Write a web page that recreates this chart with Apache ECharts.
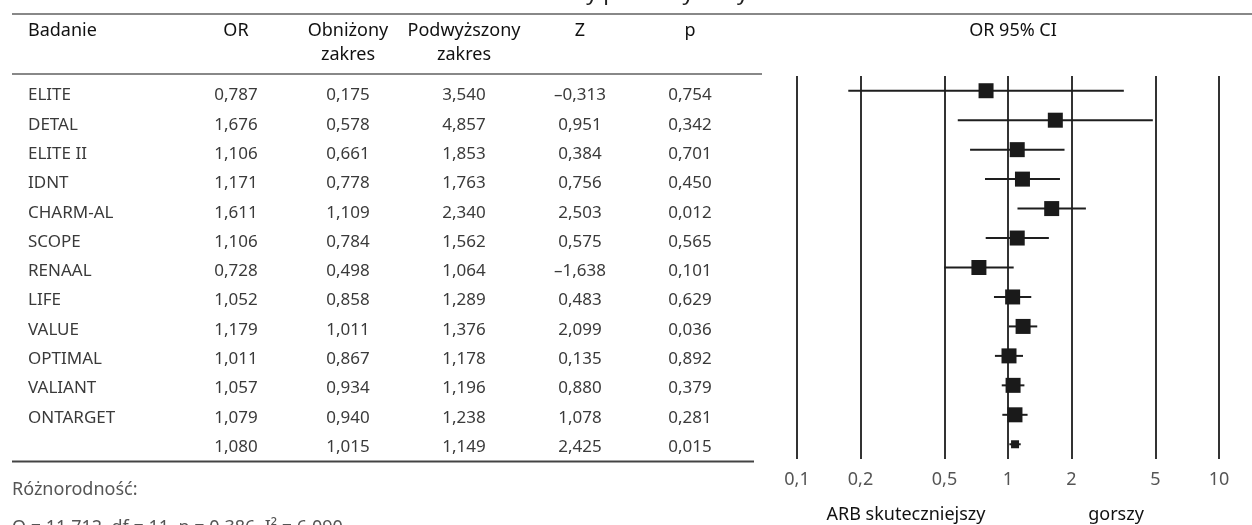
<html>
<head>
    <meta charset='utf-8' />
    <script src="https://cdn.jsdelivr.net/npm/echarts@6.0.0/dist/echarts.min.js"></script>
    <title>OR 95% CI</title>
    <style>
        html, body { margin: 0; padding: 0; background: #fff; }
        #chart { width: 1252px; height: 525px; }
    </style>
</head>
<body>
    <div id="chart"></div>
    <script type="text/javascript">
        // dane z tabeli
        var studies = ['ELITE', 'DETAL', 'ELITE II', 'IDNT', 'CHARM-AL', 'SCOPE', 'RENAAL', 'LIFE', 'VALUE', 'OPTIMAL', 'VALIANT', 'ONTARGET', ''];
        var orValues = [0.787, 1.676, 1.106, 1.171, 1.611, 1.106, 0.728, 1.052, 1.179, 1.011, 1.057, 1.079, 1.080];
        var lowerCI = [0.175, 0.578, 0.661, 0.778, 1.109, 0.784, 0.498, 0.858, 1.011, 0.867, 0.934, 0.940, 1.015];
        var upperCI = [3.540, 4.857, 1.853, 1.763, 2.340, 1.562, 1.064, 1.289, 1.376, 1.178, 1.196, 1.238, 1.149];
        var zValues = [-0.313, 0.951, 0.384, 0.756, 2.503, 0.575, -1.638, 0.483, 2.099, 0.135, 0.880, 1.078, 2.425];
        var pValues = [0.754, 0.342, 0.701, 0.450, 0.012, 0.565, 0.101, 0.629, 0.036, 0.892, 0.379, 0.281, 0.015];
        var axisTicks = [0.1, 0.2, 0.5, 1, 2, 5, 10];
        var headers = ['Badanie', 'OR', 'Obniżony\nzakres', 'Podwyższony\nzakres', 'Z', 'p'];

        var FONT = 'Noto Sans';

        function fmt(v) {
            return (v < 0 ? '–' : '') + Math.abs(v).toFixed(3).replace('.', ',');
        }

        var chart = echarts.init(document.getElementById('chart'), null, { renderer: 'canvas' });

        var graphic = [];
        function hline(x1, x2, y, color) {
            graphic.push({
                type: 'line',
                shape: { x1: x1, y1: y, x2: x2, y2: y },
                style: { stroke: color, lineWidth: 2 }
            });
        }
        function txt(x, y, text, opts) {
            opts = opts || {};
            graphic.push({
                type: 'text',
                x: x,
                y: y,
                style: {
                    text: text,
                    font: (opts.size || 17) + 'px "' + FONT + '"',
                    fill: opts.color || '#3a3a3a',
                    align: opts.align || 'center',
                    verticalAlign: 'middle',
                    lineHeight: opts.lineHeight || 22
                }
            });
        }

        // tytuł (ucięty u góry)
        txt(631, -6, 'ARB vs inny porównywany lek', { size: 22, color: '#222' });

        hline(12, 1252, 14, '#888');
        hline(12, 762, 74, '#888');
        hline(12, 754, 461.5, '#444');

        // nagłówki
        var colX = [28, 236, 348, 464, 580, 690];
        txt(colX[0], 31, headers[0], { size: 18, color: '#111', align: 'left' });
        txt(colX[1], 31, headers[1], { size: 18, color: '#111' });
        txt(colX[2], 43, headers[2], { size: 18, color: '#111', lineHeight: 24 });
        txt(colX[3], 43, headers[3], { size: 18, color: '#111', lineHeight: 24 });
        txt(colX[4], 31, headers[4], { size: 18, color: '#111' });
        txt(colX[5], 31, headers[5], { size: 18, color: '#111' });
        txt(1013, 31, 'OR 95% CI', { size: 18, color: '#111' });

        // wiersze tabeli
        studies.forEach(function (name, i) {
            var y = 95.5 + i * 29.3;
            txt(colX[0], y, name, { align: 'left' });
            txt(colX[1], y, fmt(orValues[i]));
            txt(colX[2], y, fmt(lowerCI[i]));
            txt(colX[3], y, fmt(upperCI[i]));
            txt(colX[4], y, fmt(zValues[i]));
            txt(colX[5], y, fmt(pValues[i]));
        });

        txt(12, 490, 'Różnorodność:', { size: 18, color: '#555', align: 'left' });
        txt(12, 528, 'Q = 11,712, df = 11, p = 0,386, I² = 6,090', { size: 18, color: '#555', align: 'left' });

        txt(906, 515, 'ARB skuteczniejszy', { size: 18, color: '#111' });
        txt(1116, 515, 'gorszy', { size: 18, color: '#111' });

        var ciData = studies.map(function (s, i) {
            return [lowerCI[i], upperCI[i], i];
        });
        var pointData = studies.map(function (s, i) {
            return {
                value: [orValues[i], i],
                symbolSize: i === studies.length - 1 ? 8 : 15
            };
        });

        var option = {
            animation: false,
            textStyle: { fontFamily: FONT },
            graphic: graphic,
            grid: { left: 797, right: 33, top: 76, bottom: 66 },
            xAxis: {
                type: 'log',
                logBase: 10,
                min: 0.1,
                max: 10,
                axisLine: { show: false },
                axisTick: { show: false, customValues: axisTicks },
                splitLine: { show: true, lineStyle: { color: '#333', width: 2 } },
                minorSplitLine: { show: false },
                axisLabel: {
                    customValues: axisTicks,
                    margin: 12,
                    fontSize: 18,
                    fontFamily: FONT,
                    color: '#555',
                    formatter: function (v) {
                        return String(v).replace('.', ',');
                    }
                }
            },
            yAxis: {
                type: 'category',
                data: studies.map(function (s, i) { return i; }),
                inverse: true,
                show: false
            },
            series: [{
                type: 'custom',
                data: ciData,
                encode: { x: [0, 1], y: 2 },
                renderItem: function (params, api) {
                    var a = api.coord([api.value(0), api.value(2)]);
                    var b = api.coord([api.value(1), api.value(2)]);
                    return {
                        type: 'line',
                        shape: { x1: a[0], y1: a[1], x2: b[0], y2: b[1] },
                        style: { stroke: '#1e1e1e', lineWidth: 2 }
                    };
                },
                z: 3
            }, {
                type: 'scatter',
                data: pointData,
                symbol: 'rect',
                itemStyle: { color: '#1a1a1a', opacity: 1 },
                z: 4
            }]
        };
        chart.setOption(option);
    </script>
</body>
</html>
